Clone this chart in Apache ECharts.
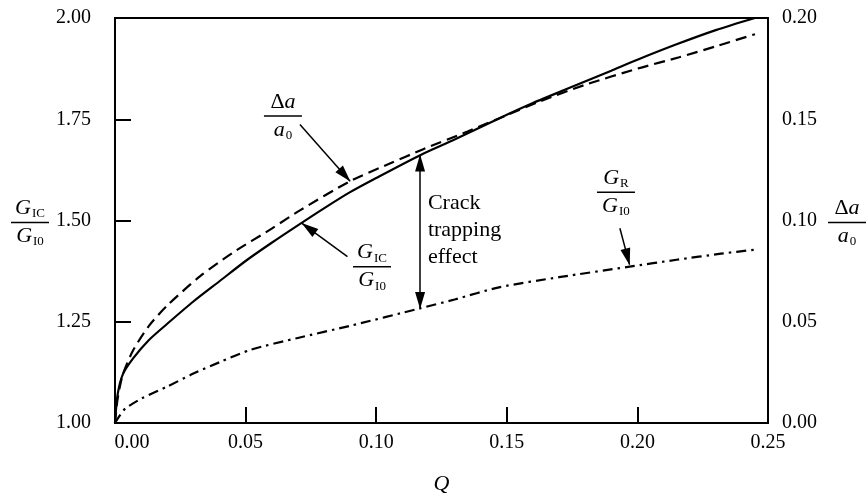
<!DOCTYPE html>
<html>
<head>
<meta charset="utf-8">
<script src="https://cdn.jsdelivr.net/npm/echarts@6/dist/echarts.min.js"></script>
<style>html,body{margin:0;padding:0;background:#fff;}#c{width:868px;height:500px;}</style>
</head>
<body>
<div id="c"></div>
<script>
// ---- data ----
const xTicks = [0, 0.05, 0.10, 0.15, 0.20, 0.25];
const leftTicks = [1.00, 1.25, 1.50, 1.75, 2.00];
const rightTicks = [0.00, 0.05, 0.10, 0.15, 0.20];

// G_IC / G_I0 (solid, left axis)
const qSolid = [0, 0.001, 0.003, 0.007, 0.013, 0.02, 0.03, 0.04, 0.05, 0.06, 0.07, 0.08, 0.09, 0.10, 0.117, 0.13, 0.147, 0.16, 0.175, 0.19, 0.20, 0.215, 0.23, 0.245];
const gIc    = [1.00, 1.07, 1.12, 1.16, 1.205, 1.245, 1.30, 1.35, 1.40, 1.445, 1.488, 1.53, 1.57, 1.605, 1.662, 1.70, 1.752, 1.79, 1.83, 1.87, 1.897, 1.935, 1.97, 2.00];

// Δa / a0 (dashed, right axis)
const qDashed = [0, 0.001, 0.003, 0.007, 0.013, 0.02, 0.0325, 0.045, 0.06, 0.0708, 0.09, 0.105, 0.118, 0.135, 0.15, 0.163, 0.18, 0.20, 0.216, 0.23, 0.245];
const daA0    = [0, 0.012, 0.024, 0.036, 0.048, 0.058, 0.0724, 0.084, 0.096, 0.105, 0.1194, 0.128, 0.1352, 0.144, 0.152, 0.159, 0.167, 0.175, 0.1806, 0.186, 0.192];

// G_R / G_I0 (dash-dot, left axis)
const qDashDot = [0, 0.002, 0.004, 0.01, 0.02, 0.03, 0.04, 0.052, 0.07, 0.09, 0.1168, 0.13, 0.147, 0.17, 0.197, 0.215, 0.232, 0.245];
const gR       = [1.00, 1.02, 1.036, 1.06, 1.09, 1.122, 1.15, 1.181, 1.21, 1.24, 1.283, 1.305, 1.335, 1.36, 1.386, 1.403, 1.418, 1.428];

// annotation arrows (data coords, left-axis units): [from, to]
const arrowDa    = [[0.0708, 1.737], [0.090, 1.597]];
const arrowGic   = [[0.089, 1.411], [0.0716, 1.493]];
const arrowCrack = [[0.1168, 1.283], [0.1168, 1.662]];
const arrowGr    = [[0.1933, 1.481], [0.197, 1.391]];
// annotation label anchors (data coords, left-axis units)
const labelDaAt    = [0.0643, 1.758];
const labelGicAt   = [0.0984, 1.386];
const labelGrAt    = [0.1918, 1.570];
const crackTextAt  = [0.1198, 1.575];
const crackText    = ['Crack', 'trapping', 'effect'];

// ---- chart ----
const FONT = 'Liberation Serif';
const zip = (a, b) => a.map((v, i) => [v, b[i]]);
const chart = echarts.init(document.getElementById('c'), null, {renderer: 'canvas'});

const fracRich = {
  n:   {fontFamily: FONT, fontSize: 22, fontStyle: 'italic', color: '#000', lineHeight: 24},
  u:   {fontFamily: FONT, fontSize: 22, color: '#000', lineHeight: 24},
  s:   {fontFamily: FONT, fontSize: 13, color: '#000', lineHeight: 13, verticalAlign: 'bottom', padding: [0, 0, 0, 1]},
  bar: {width: 38, height: 1.5, lineHeight: 4, backgroundColor: '#000', fontSize: 1}
};
const fracGIC = '{n|G}{s|IC}\n{bar| }\n{n|G}{s|I0}';
const fracGR  = '{n|G}{s|R}\n{bar| }\n{n|G}{s|I0}';
const fracDA  = '{u|Δ}{n|a}\n{bar| }\n{n|a}{s|0}';

function arrowItem(a, both) {
  return [
    {coord: a[0], symbol: both ? 'triangle' : 'none', symbolSize: [10, 17]},
    {coord: a[1], symbol: 'triangle', symbolSize: [10, 17]}
  ];
}

chart.setOption({
  animation: false,
  textStyle: {fontFamily: FONT},
  grid: {left: 115, right: 100, top: 18, bottom: 68, show: true, borderColor: '#000', borderWidth: 2},
  xAxis: {
    type: 'value', min: xTicks[0], max: xTicks[xTicks.length - 1], interval: 0.05,
    axisLine: {lineStyle: {color: '#000', width: 2}},
    axisTick: {inside: true, length: 16, lineStyle: {color: '#000', width: 2}},
    splitLine: {show: false},
    axisLabel: {
      color: '#000', fontFamily: FONT, fontSize: 20, margin: 10,
      formatter: v => (Math.abs(v) < 1e-9 ? '{s|0.00}' : v.toFixed(2)),
      rich: {s: {fontFamily: FONT, fontSize: 20, color: '#000', padding: [0, 0, 0, 34]}}
    },
    name: 'Q', nameLocation: 'middle', nameGap: 50,
    nameTextStyle: {color: '#000', fontFamily: FONT, fontSize: 22, fontStyle: 'italic'}
  },
  yAxis: [
    {
      type: 'value', min: leftTicks[0], max: leftTicks[leftTicks.length - 1], interval: 0.25,
      axisLine: {show: true, lineStyle: {color: '#000', width: 2}},
      axisTick: {show: true, inside: true, length: 16, lineStyle: {color: '#000', width: 2}},
      splitLine: {show: false},
      axisLabel: {color: '#000', fontFamily: FONT, fontSize: 20, margin: 24, formatter: v => v.toFixed(2)}
    },
    {
      type: 'value', position: 'right', min: rightTicks[0], max: rightTicks[rightTicks.length - 1], interval: 0.05,
      axisLine: {show: true, lineStyle: {color: '#000', width: 2}},
      axisTick: {show: false},
      splitLine: {show: false},
      axisLabel: {color: '#000', fontFamily: FONT, fontSize: 20, margin: 14, formatter: v => v.toFixed(2)}
    }
  ],
  series: [
    {
      name: 'GIC/GI0', type: 'line', yAxisIndex: 0, data: zip(qSolid, gIc),
      showSymbol: false, smooth: 0.25, silent: true,
      lineStyle: {color: '#000', width: 2.2, type: 'solid'}
    },
    {
      name: 'da/a0', type: 'line', yAxisIndex: 1, data: zip(qDashed, daA0),
      showSymbol: false, smooth: 0.25, silent: true,
      lineStyle: {color: '#000', width: 2.2, type: [11, 6]}
    },
    {
      name: 'GR/GI0', type: 'line', yAxisIndex: 0, data: zip(qDashDot, gR),
      showSymbol: false, smooth: 0.25, silent: true,
      lineStyle: {color: '#000', width: 2.2, type: [10, 5, 2.5, 5]},
      markLine: {
        silent: true, animation: false,
        symbolOffset: [[0, 8], [0, 8]],
        label: {show: false},
        emphasis: {disabled: true},
        lineStyle: {color: '#000', width: 1.5, type: 'solid'},
        itemStyle: {color: '#000'},
        data: [arrowItem(arrowDa), arrowItem(arrowGic), arrowItem(arrowCrack, true), arrowItem(arrowGr)]
      }
    }
  ]
});

function px(p) { return chart.convertToPixel({xAxisIndex: 0, yAxisIndex: 0}, p); }
const pDa = px(labelDaAt), pGic = px(labelGicAt), pGr = px(labelGrAt), pCrack = px(crackTextAt);
const gridRect = chart.getModel().getComponent('grid').coordinateSystem.getRect();
const midY = gridRect.y + gridRect.height / 2;

function frac(text, x, y) {
  return {type: 'text', x: x, y: y, silent: true,
    style: {text: text, rich: fracRich, align: 'center', verticalAlign: 'middle', fill: '#000', font: '22px ' + FONT}};
}

chart.setOption({
  graphic: [
    frac(fracDA, pDa[0], pDa[1]),
    frac(fracGIC, pGic[0], pGic[1]),
    frac(fracGR, pGr[0], pGr[1]),
    frac(fracGIC, 30, midY + 2),
    frac(fracDA, 847, midY + 2),
    {type: 'text', x: pCrack[0], y: pCrack[1], silent: true,
      style: {text: crackText.join('\n'), fill: '#000', font: '22px ' + FONT, lineHeight: 27, align: 'left', verticalAlign: 'top'}}
  ]
});
</script>
</body>
</html>
